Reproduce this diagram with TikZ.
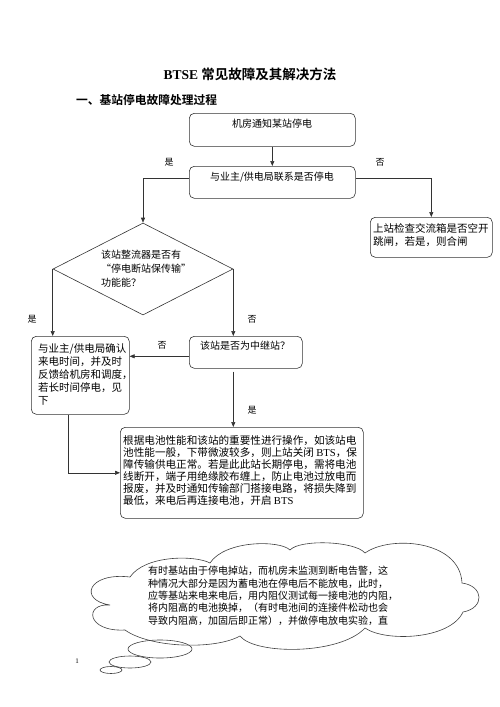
\documentclass[tikz,border=0pt]{standalone}
\usepackage{fontspec}
\setmainfont{Noto Sans CJK SC}[BoldFont={Noto Sans CJK SC Bold}]
\newfontfamily\tms{Liberation Serif}
\usetikzlibrary{arrows.meta,shapes.geometric,calc}
\begin{document}
\begin{tikzpicture}[x=1pt,y=-1pt,
  box/.style={draw=black!80, line width=0.6pt, rounded corners=5pt, inner sep=0, anchor=north west},
  conn/.style={draw=black!80, line width=0.6pt, -{Triangle[length=5pt,width=4pt]}},
  txt/.style={font=\fontsize{10}{12.5}\selectfont, inner sep=0, align=left},
  lab/.style={font=\fontsize{9}{10}\selectfont, inner sep=0},
  cloudline/.style={draw=black!75, line width=0.6pt},
]
\useasboundingbox (0,0) rectangle (500,707);

% title and heading
\node[inner sep=0, font=\fontsize{13.5}{15}\selectfont\bfseries] (title) at (250,74) {{\tms BTSE} 常见故障及其解决方法};
\node[inner sep=0, anchor=west, font=\fontsize{11.75}{13}\selectfont\bfseries] (head) at (76,100) {一、基站停电故障处理过程};

% boxes
\node[box, minimum width=166, minimum height=33] (b1) at (189,113) {};
\node[txt, anchor=north] (t1) at (272,119) {机房通知某站停电};

\node[box, minimum width=166, minimum height=32] (b2) at (189,166) {};
\node[txt, anchor=north] (t2) at (272,172) {与业主/供电局联系是否停电};

\node[box, minimum width=122, minimum height=40] (b3) at (370,217) {};
\node[txt, anchor=north west, font=\fontsize{10.5}{13.4}\selectfont] (t3) at (373,223) {上站检查交流箱是否空开\\跳闸，若是，则合闸};

\node[draw=black!80, line width=0.6pt, diamond, aspect=1.957, minimum width=180, minimum height=92, inner sep=0] (d) at (143,269) {};
\node[txt, anchor=north west, font=\fontsize{10}{14}\selectfont] (td) at (101,250) {该站整流器是否有\\“停电断站保传输”\\功能能？};

\node[box, minimum width=98, minimum height=78] (b4) at (31,336) {};
\node[txt, anchor=north west, font=\fontsize{10.5}{13}\selectfont] (t4) at (38,343) {与业主/供电局确认\\来电时间，并及时\\反馈给机房和调度，\\若长时间停电，见\\下};

\node[box, minimum width=113, minimum height=32] (b5) at (189,336) {};
\node[txt, anchor=north] (t5) at (245,341) {该站是否为中继站？};

\node[box, minimum width=243, minimum height=91] (b6) at (120,427) {};
\node[txt, anchor=north west, font=\fontsize{10.6}{12}\selectfont] (t6) at (123,435) {根据电池性能和该站的重要性进行操作，如该站电\\池性能一般，下带微波较多，则上站关闭 {\tms BTS}，保\\障传输供电正常。若是此此站长期停电，需将电池\\线断开，端子用绝缘胶布缠上，防止电池过放电而\\报废，并及时通知传输部门搭接电路，将损失降到\\最低，来电后再连接电池，开启 {\tms BTS}};

% connectors
\draw[conn] (b1) -- (b2);
\draw[conn] ([yshift=4pt]b2.west) -| (d.north);
\draw[conn] ([yshift=4pt]b2.east) -| (b3.north);
\draw[conn] (d.west) -- (d.west |- b4.north);
\draw[conn] (d.east) -- (d.east |- b5.north);
\draw[conn] ([yshift=-4pt]b5.west) -- ([yshift=-4pt]b5.west -| b4.east);
\coordinate (b5out) at ([yshift=-3pt]b5.south -| d.east);
\draw[conn] (b5out) -- (b5out |- b6.north);
\draw[conn] ([xshift=-12pt]b4.south) |- (b6.west);

% labels
\node[lab] (l1) at (169,162) {是};
\node[lab] (l2) at (380,162) {否};
\node[lab] (l3) at (32,319) {是};
\node[lab] (l4) at (252,319) {否};
\node[lab] (l5) at (162,345) {否};
\node[lab] (l6) at (252,410) {是};

% cloud callout
\draw[cloudline] (130,577)
 .. controls (88,572) and (78,600) .. (110,605)
 .. controls (84,603) and (86,632) .. (125,630)
 .. controls (150,648) and (215,650) .. (240,636)
 .. controls (255,655) and (340,655) .. (365,628)
 .. controls (385,642) and (450,640) .. (463,612)
 .. controls (485,608) and (484,586) .. (462,583)
 .. controls (460,540) and (390,535) .. (365,553)
 .. controls (355,541) and (300,539) .. (290,550)
 .. controls (280,540) and (225,540) .. (210,563)
 .. controls (195,555) and (145,555) .. (130,577) -- cycle;
\draw[cloudline] (160,649) ellipse [x radius=32, y radius=9];
\draw[cloudline] (130,662) ellipse [x radius=21, y radius=6];
\draw[cloudline] (111,670) ellipse [x radius=11, y radius=3.5];
\node[txt, anchor=north west, font=\fontsize{10}{12.4}\selectfont] (tc) at (148,566) {有时基站由于停电掉站，而机房未监测到断电告警，这\\种情况大部分是因为蓄电池在停电后不能放电，此时，\\应等基站来电来电后，用内阻仪测试每一接电池的内阻，\\将内阻高的电池换掉，（有时电池间的连接件松动也会\\导致内阻高，加固后即正常），并做停电放电实验，直};

% page number
\node[inner sep=0, font=\tms\fontsize{7}{8}\selectfont] (pg) at (77,661) {1};
\end{tikzpicture}
\end{document}
